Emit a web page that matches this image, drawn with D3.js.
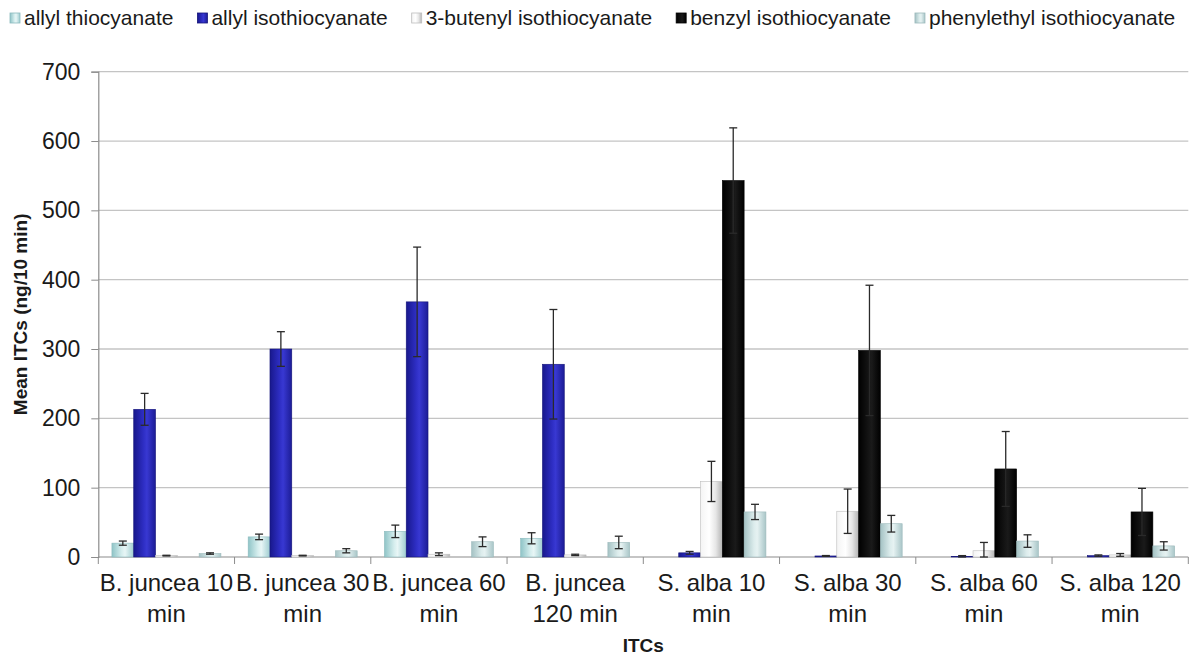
<!DOCTYPE html>
<html><head><meta charset="utf-8">
<script src="https://cdn.jsdelivr.net/npm/d3@7"></script>
<style>
html,body{margin:0;padding:0;background:#fff;}
text{font-family:"Liberation Sans",Arial,sans-serif;fill:#1a1a1a;}
</style></head>
<body>
<svg id="chart" width="1192" height="657"></svg>
<script>
// ---------- data ----------
const categories = ["B. juncea 10 min","B. juncea 30 min","B. juncea 60 min","B. juncea 120 min","S. alba 10 min","S. alba 30 min","S. alba 60 min","S. alba 120 min"];
const categoryLines = [["B. juncea 10","min"],["B. juncea 30","min"],["B. juncea 60","min"],["B. juncea","120 min"],["S. alba 10","min"],["S. alba 30","min"],["S. alba 60","min"],["S. alba 120","min"]];
const seriesNames = ["allyl thiocyanate","allyl isothiocyanate","3-butenyl isothiocyanate","benzyl isothiocyanate","phenylethyl isothiocyanate"];
const allylThiocyanate      = [20, 29, 37, 27, 0, 0, 0, 0];
const allylThiocyanateErr   = [3, 4, 9, 8, 0, 0, 0, 0];
const allylIsothiocyanate   = [213, 300, 368, 278, 6, 1.5, 1, 2];
const allylIsothiocyanateErr= [23, 25, 79, 79, 2, 0.6, 1, 1];
const butenylITC            = [2, 2, 4, 3, 109, 66, 9, 3];
const butenylITCErr         = [0.5, 0.5, 2, 1, 29, 32, 12, 2];
const benzylITC             = [0, 0, 0, 0, 543, 298, 127, 65];
const benzylITCErr          = [0, 0, 0, 0, 76, 94, 54, 34];
const phenylethylITC        = [5, 9, 22, 21, 65, 48, 23, 16];
const phenylethylITCErr     = [1, 3, 7, 9, 11, 12, 9, 6];
const yTicks = [0,100,200,300,400,500,600,700];
const yTitle = "Mean ITCs (ng/10 min)";
const xTitle = "ITCs";

const seriesValues = [allylThiocyanate, allylIsothiocyanate, butenylITC, benzylITC, phenylethylITC];
const seriesErrors = [allylThiocyanateErr, allylIsothiocyanateErr, butenylITCErr, benzylITCErr, phenylethylITCErr];

// ---------- styles ----------
const gradStops = [
  [["#8fc4c7",0],["#d6eeee",0.45],["#e8f6f6",0.6],["#9fcdd0",1]],
  [["#18188c",0],["#2e2ec4",0.45],["#3838d2",0.6],["#1c1c96",1]],
  [["#f4f4f4",0],["#ffffff",0.4],["#e6e6e6",0.7],["#b4b4b4",1]],
  [["#000000",0],["#141414",0.45],["#1a1a1a",0.6],["#000000",1]],
  [["#a4c2c4",0],["#dcecec",0.45],["#e6f2f2",0.6],["#a9c6c8",1]]
];
const edgeColors = ["#8bbabd","#14147a","#bdbdbd","#000","#9cb9bb"];

const svg = d3.select("#chart");
const defs = svg.append("defs");
gradStops.forEach((stops,i)=>{
  const g = defs.append("linearGradient").attr("id","g"+i).attr("x1","0").attr("x2","1").attr("y1","0").attr("y2","0");
  stops.forEach(s=>g.append("stop").attr("offset",s[1]).attr("stop-color",s[0]));
});

const x0 = d3.scaleBand().domain(categories).range([98.3, 1188.3]).paddingInner(0.2).paddingOuter(0.1);
const x1 = d3.scaleBand().domain(seriesNames).range([0, x0.bandwidth()]);
const y = d3.scaleLinear().domain([0,700]).range([557, 71.7]);

// gridlines
svg.append("g").selectAll("line").data(yTicks.slice(1)).join("line")
  .attr("x1",98.3).attr("x2",1188.3).attr("y1",d=>y(d)).attr("y2",d=>y(d))
  .attr("stroke","#c4c4c4").attr("stroke-width",1.3);

// y axis
const yAxis = svg.append("g").attr("transform","translate(98.3,0)")
  .call(d3.axisLeft(y).tickValues(yTicks).tickSize(7).tickPadding(11));
yAxis.select(".domain").attr("stroke","#8c8c8c").attr("stroke-width",1.2);
yAxis.selectAll(".tick line").attr("stroke","#8c8c8c");
yAxis.selectAll(".tick text").attr("font-size",23).attr("font-family","Liberation Sans, Arial, sans-serif").attr("fill","#1a1a1a");

// x axis
const xAxisG = svg.append("g");
xAxisG.append("line").attr("x1",98.3).attr("x2",1188.3).attr("y1",y(0)).attr("y2",y(0)).attr("stroke","#8c8c8c").attr("stroke-width",1.2);
const step = x0.step();
xAxisG.selectAll("line.tk").data(d3.range(categories.length+1)).join("line").attr("class","tk")
  .attr("x1",i=>98.3+i*step).attr("x2",i=>98.3+i*step).attr("y1",y(0)).attr("y2",y(0)+7)
  .attr("stroke","#8c8c8c");
const lbl = xAxisG.selectAll("text.xl").data(categories).join("text").attr("class","xl")
  .attr("text-anchor","middle").attr("font-size",24)
  .attr("x",d=>x0(d)+x0.bandwidth()/2).attr("y",591);
lbl.each(function(d,i){
  const t = d3.select(this);
  categoryLines[i].forEach((ln,j)=>{
    t.append("tspan").attr("x",x0(d)+x0.bandwidth()/2).attr("dy", j===0?0:31).text(ln);
  });
});

// bars
const groups = svg.append("g").selectAll("g").data(categories).join("g")
  .attr("transform",d=>`translate(${x0(d)},0)`);
seriesNames.forEach((s,si)=>{
  groups.append("rect")
    .attr("x",x1(s)).attr("width",x1.bandwidth())
    .attr("y",(d,ci)=>y(seriesValues[si][ci]))
    .attr("height",(d,ci)=>y(0)-y(seriesValues[si][ci]))
    .attr("fill",`url(#g${si})`)
    .attr("stroke",edgeColors[si]).attr("stroke-width",0.6)
    .attr("display",(d,ci)=>seriesValues[si][ci]>0?null:"none");
});
// error bars
seriesNames.forEach((s,si)=>{
  groups.each(function(d,ci){
    const v = seriesValues[si][ci], e = seriesErrors[si][ci];
    if(!(e>0)) return;
    const cx = x1(s)+x1.bandwidth()/2;
    const g = d3.select(this).append("g").attr("stroke","#2a2a2a").attr("stroke-width",1.3);
    g.append("line").attr("x1",cx).attr("x2",cx).attr("y1",y(v+e)).attr("y2",y(Math.max(0,v-e)));
    g.append("line").attr("x1",cx-4).attr("x2",cx+4).attr("y1",y(v+e)).attr("y2",y(v+e));
    g.append("line").attr("x1",cx-4).attr("x2",cx+4).attr("y1",y(Math.max(0,v-e))).attr("y2",y(Math.max(0,v-e)));
  });
});

// axis titles
svg.append("text").attr("transform",`translate(27,${(y(0)+y(700))/2}) rotate(-90)`)
  .attr("text-anchor","middle").attr("font-size",19).attr("font-weight","bold").text(yTitle);
svg.append("text").attr("x",(98.3+1188.3)/2).attr("y",652).attr("text-anchor","middle")
  .attr("font-size",19).attr("font-weight","bold").text(xTitle);

// legend
const legend = svg.append("g");
let lx = 10;
seriesNames.forEach((s,si)=>{
  legend.append("rect").attr("x",lx).attr("y",13).attr("width",10).attr("height",10)
    .attr("fill",`url(#g${si})`).attr("stroke",edgeColors[si]).attr("stroke-width",0.8);
  const t = legend.append("text").attr("x",lx+14).attr("y",25).attr("font-size",21).text(s);
  lx = lx + 14 + t.node().getComputedTextLength() + 24;
});
</script>
</body></html>
